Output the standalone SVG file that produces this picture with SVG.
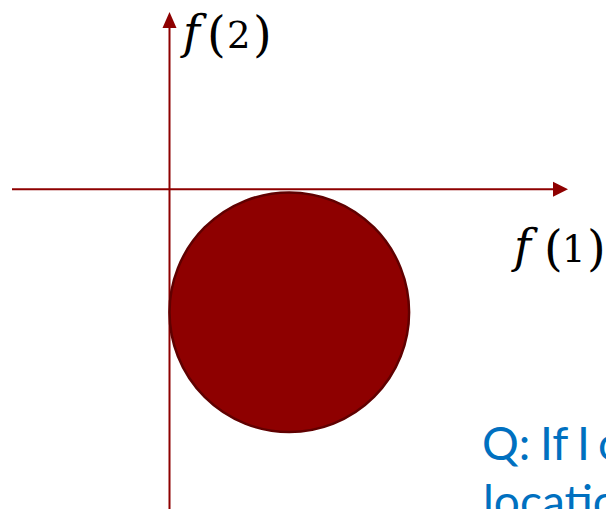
<svg xmlns="http://www.w3.org/2000/svg" width="606" height="509" viewBox="0 0 606 509">
<defs>
<style>
.axis{stroke:#8E0000;stroke-width:2;fill:none}
.head{fill:#8E0000}
.math{font-family:"DejaVu Serif","Liberation Serif",serif;font-size:37px;fill:#000}
.it{font-style:italic;font-size:46px}
.par{font-size:48px}
.q{font-family:Lato,"Open Sans",sans-serif;font-size:46px;fill:#0070C0}
</style>
</defs>
<rect width="606" height="509" fill="#fff"/>
<g id="connectors">
<line class="axis" x1="169.5" y1="509" x2="169.5" y2="26"/>
<polygon class="head" points="169.5,12 162.5,28 176.5,28"/>
<line class="axis" x1="12" y1="189.3" x2="555" y2="189.3"/>
<polygon class="head" points="568,189.3 553,181.8 553,196.8"/>
</g>
<g id="circle">
<circle cx="289.3" cy="312.2" r="119.8" fill="#8E0000" stroke="#600000" stroke-width="2.5"/>
</g>
<g id="label-f2">
<text class="math"><tspan class="it" x="183" y="48">f</tspan><tspan class="par" x="207" y="51">(</tspan><tspan x="227" y="48">2</tspan><tspan class="par" x="253" y="51">)</tspan></text>
</g>
<g id="label-f1">
<text class="math"><tspan class="it" x="514" y="262">f</tspan><tspan class="par" x="544" y="265">(</tspan><tspan x="562" y="262">1</tspan><tspan class="par" x="587" y="265">)</tspan></text>
</g>
<g id="question">
<text class="q" y="460"><tspan x="482">Q:</tspan><tspan x="540">If</tspan><tspan x="577">I</tspan><tspan x="598">c</tspan></text>
<text class="q" x="483" y="518">locatio</text>
</g>
</svg>
